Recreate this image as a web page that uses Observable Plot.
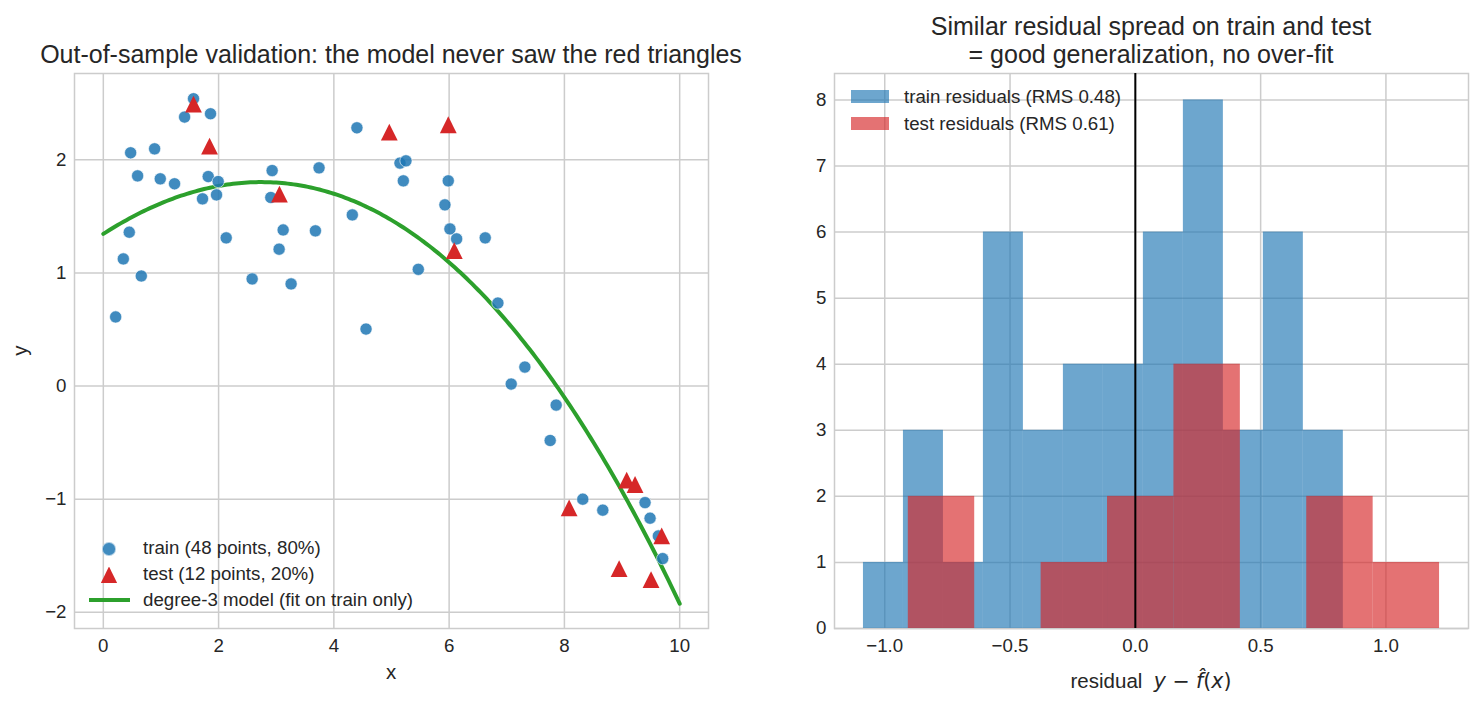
<!DOCTYPE html>
<html>
<head>
<meta charset="utf-8">
<script src="https://cdn.jsdelivr.net/npm/d3@7"></script>
<script src="https://cdn.jsdelivr.net/npm/@observablehq/plot@0.6"></script>
<style>
  body { margin: 0; background: #fff; font-family: "Liberation Sans", Arial, sans-serif; color: #262626; }
  #wrap { position: relative; width: 1483px; height: 709px; overflow: hidden; background: #fff; }
  #wrap > svg { position: absolute; top: 0; }
  .sw { position: absolute; box-sizing: border-box; }
  .lt { position: absolute; font-size: 18.7px; line-height: 1; white-space: nowrap; color: #262626; }
</style>
</head>
<body>
<div id="wrap"></div>
<script>
// ---- training sample (48 points) ----
const trainX = [0.214, 0.347, 0.45, 0.474, 0.595, 0.659, 0.89, 0.988, 1.236, 1.41, 1.565, 1.721,
  1.82, 1.86, 1.964, 1.993, 2.132, 2.582, 2.906, 2.929, 3.05, 3.12, 3.258, 3.68,
  3.743, 4.32, 4.40, 4.558, 5.147, 5.205, 5.251, 5.465, 5.927, 5.985, 6.014, 6.13,
  6.626, 6.846, 7.077, 7.314, 7.753, 7.857, 8.319, 8.666, 9.399, 9.486, 9.63, 9.705];
const trainY = [0.611, 1.124, 1.36, 2.062, 1.858, 0.973, 2.097, 1.832, 1.788, 2.378, 2.54, 1.655,
  1.852, 2.407, 1.69, 1.808, 1.31, 0.947, 1.667, 1.905, 1.21, 1.38, 0.903, 1.372,
  1.929, 1.513, 2.283, 0.504, 1.971, 1.814, 1.991, 1.032, 1.602, 1.814, 1.389, 1.301,
  1.31, 0.734, 0.018, 0.168, -0.481, -0.168, -1.0, -1.097, -1.03, -1.168, -1.325, -1.525];

// ---- held-out test sample (12 points) ----
const testX = [1.565, 1.843, 3.056, 4.962, 5.985, 6.089, 8.082, 8.949, 9.081, 9.226, 9.503, 9.688];
const testY = [2.493, 2.121, 1.696, 2.245, 2.31, 1.198, -1.077, -1.613, -0.832, -0.87, -1.711, -1.325];

// ---- residual histograms ----
const trainEdges = [-1.085, -0.9254, -0.7658, -0.6063, -0.4467, -0.2871, -0.1275, 0.0321,
  0.1917, 0.3513, 0.5108, 0.6704, 0.830];
const trainCounts = [1, 3, 1, 6, 3, 4, 4, 6, 8, 3, 6, 3];
const testEdges = [-0.906, -0.641, -0.376, -0.111, 0.154, 0.419, 0.684, 0.949, 1.214];
const testCounts = [2, 0, 1, 2, 4, 0, 2, 1];

// ---- ticks and text ----
const xTicksL = [0, 2, 4, 6, 8, 10];
const yTicksL = [-2, -1, 0, 1, 2];
const xTicksR = [-1, -0.5, 0, 0.5, 1];
const yTicksR = [0, 1, 2, 3, 4, 5, 6, 7, 8];
const titleL = "Out-of-sample validation: the model never saw the red triangles";
const titleR = ["Similar residual spread on train and test", "= good generalization, no over-fit"];
const legendL = ["train (48 points, 80%)", "test (12 points, 20%)", "degree-3 model (fit on train only)"];
const legendR = ["train residuals (RMS 0.48)", "test residuals (RMS 0.61)"];

const BLUE = "#1f77b4", RED = "#d62728", GREEN = "#2ca02c", GRID = "#cccccc", INK = "#262626";
const FONT = "Liberation Sans, Arial, sans-serif";

// least-squares polynomial fit (normal equations + Gauss-Jordan)
function polyfit(xs, ys, deg) {
  const n = deg + 1;
  const A = Array.from({length: n}, () => new Array(n + 1).fill(0));
  xs.forEach((x, k) => {
    const p = Array.from({length: n}, (_, i) => x ** i);
    for (let i = 0; i < n; i++) {
      for (let j = 0; j < n; j++) A[i][j] += p[i] * p[j];
      A[i][n] += p[i] * ys[k];
    }
  });
  for (let c = 0; c < n; c++) {
    let piv = c;
    for (let r = c + 1; r < n; r++) if (Math.abs(A[r][c]) > Math.abs(A[piv][c])) piv = r;
    [A[c], A[piv]] = [A[piv], A[c]];
    for (let r = 0; r < n; r++) {
      if (r === c) continue;
      const f = A[r][c] / A[c][c];
      for (let j = c; j <= n; j++) A[r][j] -= f * A[c][j];
    }
  }
  return A.map((row, i) => row[n] / row[i]);
}
const coef = polyfit(trainX, trainY, 3);
const model = x => coef.reduce((s, c, i) => s + c * x ** i, 0);

const train = trainX.map((x, i) => ({x, y: trainY[i]}));
const test = testX.map((x, i) => ({x, y: testY[i]}));
const curve = d3.range(0, 10.0001, 0.05).map(x => ({x, y: model(x)}));

const trainBins = trainCounts.map((c, i) => ({x1: trainEdges[i], x2: trainEdges[i + 1], count: c}));
const testBins = testCounts.map((c, i) => ({x1: testEdges[i], x2: testEdges[i + 1], count: c}));

// upward triangle whose bounding box is centred on the point
const triangleUp = {
  draw(ctx, size) {
    const r = Math.sqrt(size / Math.PI);
    ctx.moveTo(0, -r); ctx.lineTo(r, r); ctx.lineTo(-r, r); ctx.closePath();
  }
};

const baseStyle = {fontFamily: FONT, fontSize: "18.7px", color: INK, background: "white", overflow: "visible"};
const intFormat = d3.format("d");

// ---- left panel: scatter + cubic model ----
const left = Plot.plot({
  width: 741, height: 709,
  marginLeft: 74, marginRight: 33, marginTop: 73, marginBottom: 81,
  style: baseStyle,
  x: {domain: [-0.5, 10.5], ticks: xTicksL, tickFormat: intFormat, tickSize: 0, tickPadding: 10, label: null},
  y: {domain: [-2.143, 2.763], ticks: yTicksL, tickFormat: intFormat, tickSize: 0, tickPadding: 8, label: null},
  marks: [
    Plot.gridX(xTicksL, {stroke: GRID, strokeOpacity: 1, strokeWidth: 1.5}),
    Plot.gridY(yTicksL, {stroke: GRID, strokeOpacity: 1, strokeWidth: 1.5}),
    Plot.frame({stroke: GRID, strokeWidth: 1.5}),
    Plot.line(curve, {x: "x", y: "y", stroke: GREEN, strokeWidth: 4}),
    Plot.dot(train, {x: "x", y: "y", r: 6.1, fill: BLUE, fillOpacity: 0.85, stroke: "white", strokeOpacity: 0.6, strokeWidth: 1}),
    Plot.dot(test, {x: "x", y: "y", r: 8.4, symbol: triangleUp, fill: RED})
  ]
});

// ---- right panel: residual histograms ----
const right = Plot.plot({
  width: 723, height: 709,
  marginLeft: 74, marginRight: 15, marginTop: 73, marginBottom: 81,
  style: baseStyle,
  x: {domain: [-1.2005, 1.3295], ticks: xTicksR, tickFormat: ".1f", tickSize: 0, tickPadding: 10, label: null},
  y: {domain: [0, 8.4], ticks: yTicksR, tickFormat: intFormat, tickSize: 0, tickPadding: 8, label: null},
  marks: [
    Plot.gridX(xTicksR, {stroke: GRID, strokeOpacity: 1, strokeWidth: 1.5}),
    Plot.gridY(yTicksR, {stroke: GRID, strokeOpacity: 1, strokeWidth: 1.5}),
    Plot.frame({stroke: GRID, strokeWidth: 1.5}),
    Plot.rect(trainBins, {x1: "x1", x2: "x2", y1: 0, y2: "count", fill: BLUE, fillOpacity: 0.65}),
    Plot.rect(testBins, {x1: "x1", x2: "x2", y1: 0, y2: "count", fill: RED, fillOpacity: 0.65}),
    Plot.ruleX([0], {stroke: "black", strokeWidth: 2})
  ]
});

const wrap = document.getElementById("wrap");
left.style.left = "0px";
right.style.left = "760px";
wrap.append(left, right);

// titles and axis labels
const L = d3.select(left), R = d3.select(right);
L.append("text").attr("x", 391).attr("y", 62.5).attr("text-anchor", "middle")
  .attr("fill", INK).style("font-size", "25px").text(titleL);
titleR.forEach((t, i) => {
  R.append("text").attr("x", 391).attr("y", 34.5 + i * 28.5).attr("text-anchor", "middle")
    .attr("fill", INK).style("font-size", "25px").text(t);
});
L.append("text").attr("x", 391).attr("y", 678.5).attr("text-anchor", "middle")
  .attr("fill", INK).style("font-size", "20.5px").text("x");
L.append("text").attr("transform", "translate(27,350.5) rotate(-90)").attr("text-anchor", "middle")
  .attr("fill", INK).style("font-size", "20.5px").text("y");

const xl = R.append("text").attr("x", 391).attr("y", 688).attr("text-anchor", "middle")
  .attr("fill", INK).attr("xml:space", "preserve").style("white-space", "pre").style("font-size", "20.5px");
xl.append("tspan").text("residual  ");
const mathPart = [["y", true], [" \u2212 ", false], ["f\u0302", true], ["(", false], ["x", true], [")", false]];
mathPart.forEach(([s, it]) => {
  xl.append("tspan").style("font-family", "DejaVu Sans").style("font-style", it ? "italic" : "normal").text(s);
});

// legends
function addText(txt, left, baseline) {
  const d = document.createElement("div");
  d.className = "lt";
  d.style.left = left + "px";
  d.style.top = (baseline - 15.8) + "px";
  d.textContent = txt;
  wrap.append(d);
}
function addSwatch(css) {
  const s = document.createElement("div");
  s.className = "sw";
  Object.assign(s.style, css);
  wrap.append(s);
}
// left legend
addSwatch({left: (109 - 6.6) + "px", top: (549 - 6.6) + "px", width: "13.2px", height: "13.2px",
  borderRadius: "50%", background: "rgba(31,119,180,0.85)", border: "1px solid rgba(255,255,255,0.6)"});
addSwatch({left: (109 - 8.4) + "px", top: (575 - 8.4) + "px", width: "16.8px", height: "16.8px",
  background: RED, clipPath: "polygon(50% 0, 100% 100%, 0 100%)"});
addSwatch({left: "89px", top: "598px", width: "41px", height: "4px", background: GREEN});
addText(legendL[0], 143, 555);
addText(legendL[1], 143, 581);
addText(legendL[2], 143, 607);
// right legend
addSwatch({left: "851px", top: "90px", width: "38px", height: "13px", background: "rgba(31,119,180,0.65)"});
addSwatch({left: "851px", top: "117px", width: "38px", height: "13px", background: "rgba(214,39,40,0.65)"});
addText(legendR[0], 904, 104);
addText(legendR[1], 904, 131);
</script>
</body>
</html>
